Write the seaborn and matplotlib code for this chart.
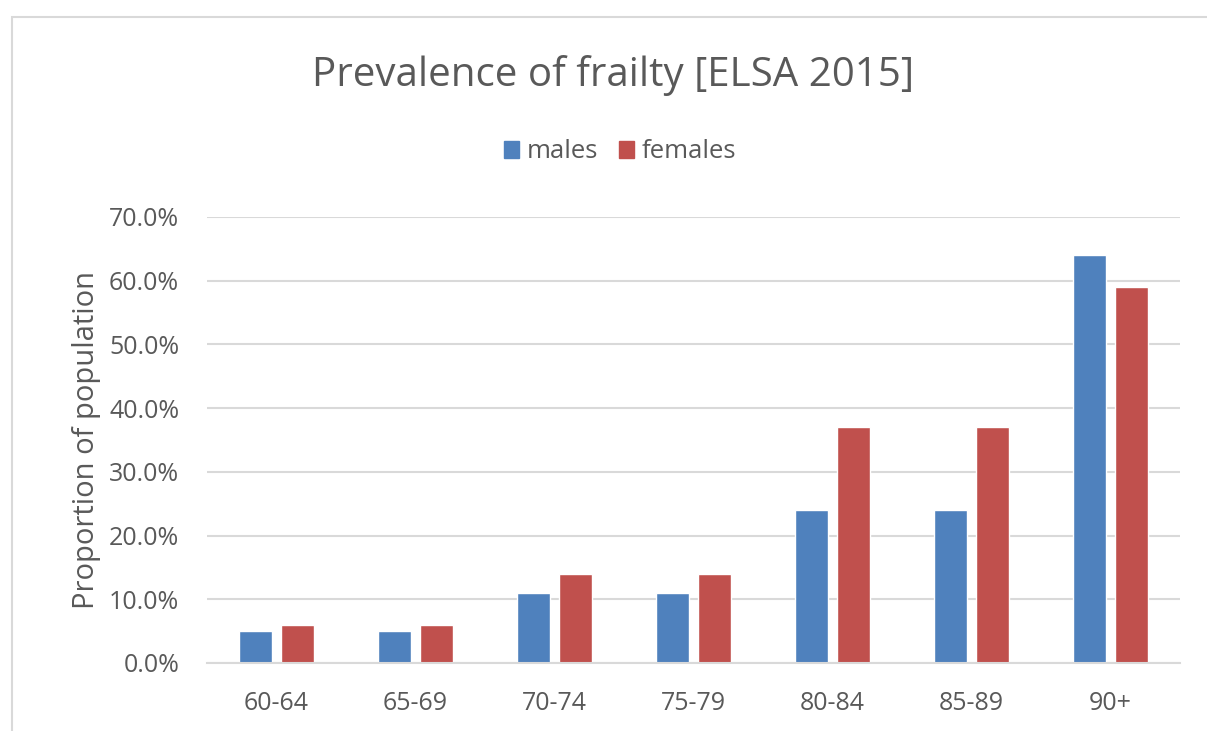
import matplotlib
matplotlib.use("Agg")
import matplotlib.pyplot as plt
import matplotlib.patches as mpatches
from matplotlib.ticker import PercentFormatter, MultipleLocator
import seaborn as sns
import pandas as pd

age_groups = ["60-64", "65-69", "70-74", "75-79", "80-84", "85-89", "90+"]
males = [5, 5, 11, 11, 24, 24, 64]
females = [6, 6, 14, 14, 37, 37, 59]
series_names = ["males", "females"]

df = pd.DataFrame({
    "age": age_groups * 2,
    "value": males + females,
    "sex": [series_names[0]] * len(males) + [series_names[1]] * len(females),
})

sns.set_theme(style="white")
plt.rcParams["font.family"] = ["Open Sans", "DejaVu Sans"]
text_col = "#595959"
grid_col = "#d9d9d9"

fig = plt.figure(figsize=(12.07, 7.31), dpi=100)
ax = fig.add_axes([207 / 1207, 68 / 731, 973 / 1207, 446 / 731])

sns.barplot(data=df, x="age", y="value", hue="sex", order=age_groups,
            hue_order=series_names, palette=["#4f81bd", "#c0504d"],
            width=0.6, gap=0.2, saturation=1, ax=ax, legend=False)

ax.set_ylim(0, 70)
ax.set_xlim(-0.5, len(age_groups) - 0.5)
ax.yaxis.set_major_locator(MultipleLocator(10))
ax.yaxis.set_major_formatter(PercentFormatter(decimals=1))
ax.grid(axis="y", color=grid_col, linewidth=1.5)
ax.set_axisbelow(True)
for s in ["top", "right", "left"]:
    ax.spines[s].set_visible(False)
ax.spines["bottom"].set_color(grid_col)
ax.spines["bottom"].set_linewidth(1.5)
ax.tick_params(axis="y", length=0, labelsize=18, labelcolor=text_col, pad=20)
ax.tick_params(axis="x", length=0, labelsize=18, labelcolor=text_col, pad=20)
ax.set_xlabel("")
ax.set_ylabel("Proportion of population", fontsize=21, color=text_col, labelpad=6)

fig.text(613 / 1207, 1 - 75 / 731, "Prevalence of frailty [ELSA 2015]",
         ha="center", va="center", fontsize=29, color=text_col)

handles = [mpatches.Patch(color=c, label=n) for c, n in zip(["#4f81bd", "#c0504d"], series_names)]
fig.legend(handles=handles, loc="center", bbox_to_anchor=(620 / 1207, 1 - 152 / 731),
           ncol=2, frameon=False, fontsize=18.5, labelcolor=text_col,
           handlelength=0.6, handleheight=0.6, handletextpad=0.3, columnspacing=0.8)

frame = mpatches.Rectangle((12 / 1207, -0.01), 1.02, 1 - 17 / 731 + 0.01,
                           transform=fig.transFigure, fill=False,
                           edgecolor="#d9d9d9", linewidth=1.5)
fig.patches.append(frame)

fig.savefig("out.png", dpi=100)
